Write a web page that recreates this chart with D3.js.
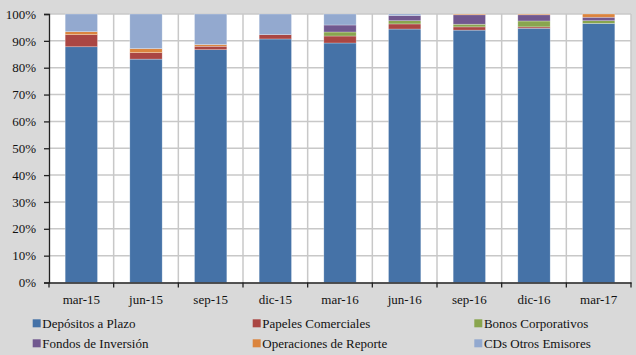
<!DOCTYPE html>
<html><head><meta charset="utf-8">
<script src="https://cdn.jsdelivr.net/npm/d3@7"></script>
<style>
body{margin:0;background:#d9d9d9;}
text{font-family:"Times New Roman",Tinos,"Liberation Serif",serif;}
</style>
</head>
<body>
<svg id="c" width="636" height="355" font-family="Times New Roman"></svg>
<script>
const categories = ["mar-15","jun-15","sep-15","dic-15","mar-16","jun-16","sep-16","dic-16","mar-17"];
const seriesNames = ["Depósitos a Plazo","Papeles Comerciales","Bonos Corporativos","Fondos de Inversión","Operaciones de Reporte","CDs Otros Emisores"];
const depositos   = [87.8, 83.2, 86.7, 90.7, 89.2, 94.4, 94.0, 94.7, 96.5];
const papeles     = [4.5, 2.4, 1.3, 1.6, 2.6, 1.9, 1.2, 0.5, 0.0];
const bonos       = [0.0, 0.0, 0.0, 0.0, 1.5, 1.2, 1.0, 2.2, 1.0];
const fondos      = [0.0, 0.0, 0.0, 0.0, 2.6, 1.9, 3.5, 2.3, 1.3];
const operaciones = [1.1, 1.5, 0.6, 0.0, 0.0, 0.0, 0.3, 0.3, 1.2];
const cds         = [6.6, 12.9, 11.4, 7.7, 4.1, 0.6, 0.0, 0.0, 0.0];
const yTicks = [0,10,20,30,40,50,60,70,80,90,100];
const colors = ["#4572A7","#AA4643","#89A54E","#71588F","#DB843D","#93A9CF"];

const seriesData = [depositos, papeles, bonos, fondos, operaciones, cds];
const table = categories.map((c,i)=>{
  const o = {cat:c};
  seriesNames.forEach((s,j)=>o[s]=seriesData[j][i]);
  return o;
});

const svg = d3.select("#c");
const x0 = 49, x1 = 631, yTop = 14, yBot = 282.5;
const x = d3.scaleBand().domain(categories).range([x0,x1]).paddingInner(0.5).paddingOuter(0.25);
const y = d3.scaleLinear().domain([0,100]).range([yBot,yTop]);

svg.append("rect").attr("x",x0).attr("y",yTop).attr("width",x1-x0).attr("height",yBot-yTop).attr("fill","#fff");

svg.append("g").selectAll("line").data(yTicks.slice(1)).join("line")
  .attr("x1",x0).attr("x2",x1).attr("y1",d=>y(d)).attr("y2",d=>y(d))
  .attr("stroke","#c8c8c8").attr("stroke-width",1.5);
const step = (x1-x0)/categories.length;
const bounds = d3.range(1,categories.length+1).map(i=>x0+i*step);
svg.append("g").selectAll("line").data(bounds).join("line")
  .attr("x1",d=>d).attr("x2",d=>d).attr("y1",yTop).attr("y2",yBot)
  .attr("stroke","#c8c8c8").attr("stroke-width",1.5);

const stack = d3.stack().keys(seriesNames)(table);
svg.append("g").selectAll("g").data(stack).join("g")
  .attr("fill",(d,i)=>colors[i])
  .selectAll("rect").data(d=>d.filter(p=>p[1]-p[0]>0)).join("rect")
  .attr("x",d=>x(d.data.cat)).attr("width",x.bandwidth())
  .attr("y",d=>y(d[1])).attr("height",d=>y(d[0])-y(d[1]))
  .attr("stroke","rgba(255,255,255,0.45)").attr("stroke-width",0.6);

// y axis
const gy = svg.append("g").attr("transform",`translate(${x0},0)`)
  .call(d3.axisLeft(y).tickValues(yTicks).tickFormat(d=>d+"%").tickSize(5).tickPadding(8));
gy.attr("font-family",null).attr("font-size",null);
gy.select(".domain").attr("stroke","#222").attr("stroke-width",1.3);
gy.selectAll(".tick line").attr("stroke","#222").attr("stroke-width",1.3);
gy.selectAll("text").attr("font-size",13).attr("fill","#111");

// x axis
const gx = svg.append("g").attr("transform",`translate(0,${yBot})`)
  .call(d3.axisBottom(x).tickSize(0).tickPadding(12));
gx.attr("font-family",null).attr("font-size",null);
gx.select(".domain").attr("stroke","#222").attr("stroke-width",1.3);
gx.selectAll("text").attr("font-size",13).attr("fill","#111");
gx.append("g").selectAll("line").data([x0].concat(bounds)).join("line")
  .attr("x1",d=>d).attr("x2",d=>d).attr("y1",0).attr("y2",5)
  .attr("stroke","#222").attr("stroke-width",1.3);

// legend
const legX = [32.7, 252.7, 474.3];
const legY = [323.3, 343.3];
const leg = svg.append("g").selectAll("g").data(seriesNames).join("g")
  .attr("transform",(d,i)=>`translate(${legX[i%3]},${legY[Math.floor(i/3)]})`);
leg.append("rect").attr("x",0).attr("y",-4).attr("width",8).attr("height",8).attr("fill",(d,i)=>colors[i]);
leg.append("text").attr("x",9.6).attr("y",4.3)
  .attr("font-size",13).attr("fill","#111").text(d=>d);
</script>
</body></html>
